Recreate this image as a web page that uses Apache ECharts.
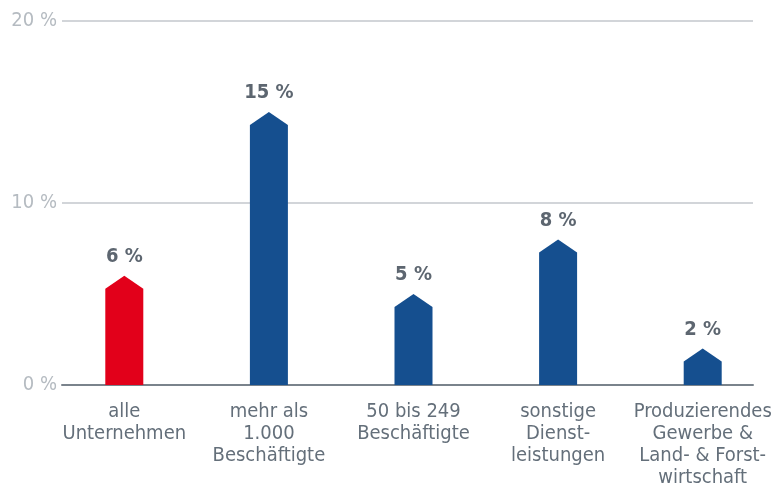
<!DOCTYPE html>
<html><head><meta charset="utf-8">
<script src="https://cdn.jsdelivr.net/npm/echarts@6/dist/echarts.min.js"></script>
<style>html,body{margin:0;padding:0;background:#fff}#c{width:775px;height:490px}</style>
</head><body><div id="c"></div>
<script>
var categories = ['alle\nUnternehmen', 'mehr als\n1.000\nBeschäftigte', '50 bis 249\nBeschäftigte', 'sonstige\nDienst-\nleistungen', 'Produzierendes\nGewerbe &\nLand- & Forst-\nwirtschaft'];
var values = [6, 15, 5, 8, 2];
var yTicks = [0, 10, 20];
var barColors = ['#e2001a', '#154f8f', '#154f8f', '#154f8f', '#154f8f'];

var FONT = '"DejaVu Sans Condensed", sans-serif';
var chart = echarts.init(document.getElementById('c'));
chart.setOption({
  animation: false,
  grid: [
    {left: 52, width: 725, top: 21, bottom: 105},
    {left: 62, right: 22, top: 21, bottom: 105}
  ],
  xAxis: [
    {type: 'category', gridIndex: 0, data: categories,
     axisLine: {show: false}, axisTick: {show: false},
     axisLabel: {color: '#646f7a', fontFamily: FONT, fontSize: 20, lineHeight: 22, margin: 16, interval: 0}},
    {type: 'value', gridIndex: 1, min: 0, max: 1,
     axisLine: {show: true, onZero: false, lineStyle: {color: '#7a838c', width: 2}},
     axisTick: {show: false}, axisLabel: {show: false}, splitLine: {show: false}}
  ],
  yAxis: [
    {type: 'value', gridIndex: 0, min: 0, max: 20, show: false},
    {type: 'value', gridIndex: 1, min: 0, max: 20, interval: 10,
     axisLine: {show: false}, axisTick: {show: false},
     splitLine: {lineStyle: {color: '#c3c7cc', width: 1.5}},
     axisLabel: {color: '#b5bbc1', fontFamily: FONT, fontSize: 20, margin: 5,
       formatter: function (v) { return v + ' %'; }}}
  ],
  series: [{
    type: 'custom',
    xAxisIndex: 0, yAxisIndex: 0,
    data: values.map(function (v, i) { return [i, v]; }),
    renderItem: function (params, api) {
      var i = api.value(0), v = api.value(1);
      var top = api.coord([i, v]);
      var base = api.coord([i, 0]);
      var hw = 19, sh = 13;
      var x = top[0];
      return {
        type: 'group',
        children: [
          {type: 'polygon', shape: {points: [[x - hw, base[1]], [x - hw, top[1] + sh], [x, top[1]], [x + hw, top[1] + sh], [x + hw, base[1]]]},
           style: {fill: barColors[i]}},
          {type: 'text', x: x, y: top[1] - 9,
           style: {text: v + ' %', fill: '#5d6670', font: 'bold 20px ' + FONT, align: 'center', verticalAlign: 'bottom'}}
        ]
      };
    }
  }]
});
</script></body></html>
